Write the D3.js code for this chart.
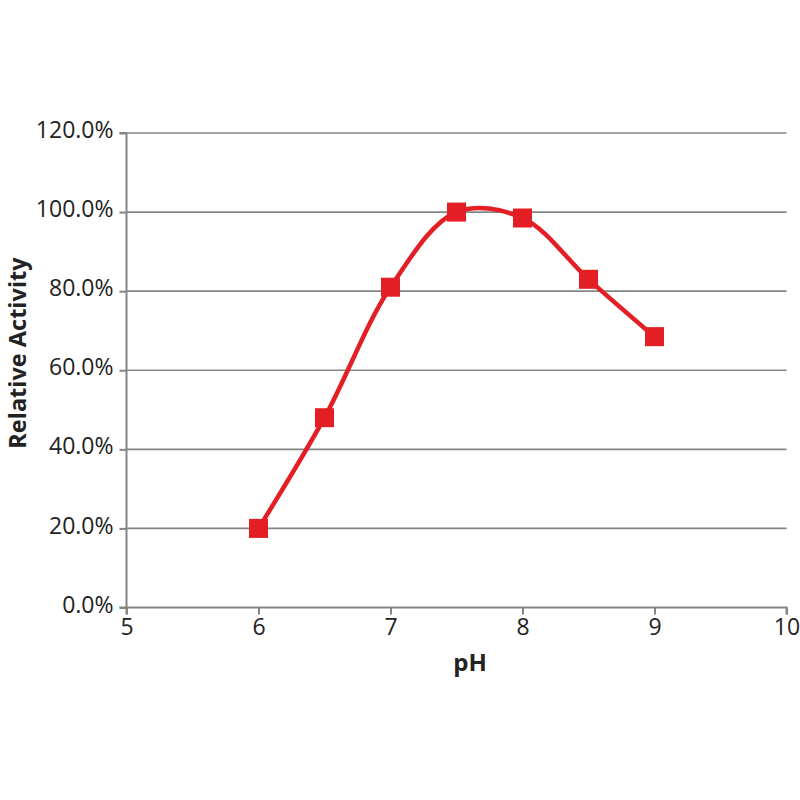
<!DOCTYPE html>
<html><head><meta charset="utf-8">
<script src="https://cdn.jsdelivr.net/npm/d3@7"></script>
<style>body{margin:0;background:#fff}text{font-family:"Open Sans","Noto Sans",sans-serif}</style>
</head><body><svg id="c" width="800" height="800"></svg>
<script>
const phValues = [6, 6.5, 7, 7.5, 8, 8.5, 9];
const activity = [0.20, 0.48, 0.81, 1.00, 0.985, 0.83, 0.685];
const xTicks = [5, 6, 7, 8, 9, 10];
const yTicks = [0, 0.2, 0.4, 0.6, 0.8, 1.0, 1.2];
const xLabel = "pH";
const yLabel = "Relative Activity";

const svg = d3.select("#c");
const L = 126.5, R = 786.5, T = 133, B = 607.5;
const x = d3.scaleLinear().domain([5, 10]).range([L, R]);
const y = d3.scaleLinear().domain([0, 1.2]).range([B, T]);
const grey = "#858585";

// gridlines
svg.append("g").selectAll("line").data(yTicks.filter(d => d > 0)).join("line")
  .attr("x1", L).attr("x2", R).attr("y1", d => y(d)).attr("y2", d => y(d))
  .attr("stroke", grey).attr("stroke-width", 1.6);

const yAxis = svg.append("g").attr("transform", `translate(${L},0)`)
  .call(d3.axisLeft(y).tickValues(yTicks).tickFormat(d3.format(".1%")).tickSize(7).tickPadding(6));
const xAxis = svg.append("g").attr("transform", `translate(0,${B})`)
  .call(d3.axisBottom(x).tickValues(xTicks).tickFormat(d3.format("d")).tickSize(7).tickPadding(4));
[yAxis, xAxis].forEach(a => {
  a.select(".domain").attr("stroke", grey).attr("stroke-width", 2);
  a.selectAll(".tick line").attr("stroke", grey).attr("stroke-width", 2);
  a.selectAll("text").attr("font-size", 23).attr("fill", "#222")
    .style("font-family", '"Open Sans","Noto Sans",sans-serif');
});
yAxis.selectAll(".tick text").attr("dy", "0.2em");
yAxis.select(".domain").attr("d", `M-7,${T}H0V${B}H-7`);
xAxis.select(".domain").attr("d", `M${L},7V0H${R}V7`);

const pts = phValues.map((p, i) => [p, activity[i]]);
svg.append("path").datum(pts)
  .attr("d", d3.line().x(d => x(d[0])).y(d => y(d[1])).curve(d3.curveCatmullRom.alpha(0.5)))
  .attr("fill", "none").attr("stroke", "#e31e24").attr("stroke-width", 4.5);

svg.append("g").selectAll("rect").data(pts).join("rect")
  .attr("x", d => x(d[0]) - 9.5).attr("y", d => y(d[1]) - 9.5)
  .attr("width", 19).attr("height", 19).attr("fill", "#e31e24");

svg.append("text").attr("x", 470).attr("y", 671).attr("text-anchor", "middle")
  .attr("font-size", 24).attr("font-weight", "bold").attr("fill", "#222").text(xLabel);
svg.append("text").attr("transform", `translate(26,353) rotate(-90)`)
  .attr("text-anchor", "middle").attr("font-size", 23.5).attr("font-weight", "bold")
  .attr("fill", "#222").text(yLabel);
</script></body></html>
